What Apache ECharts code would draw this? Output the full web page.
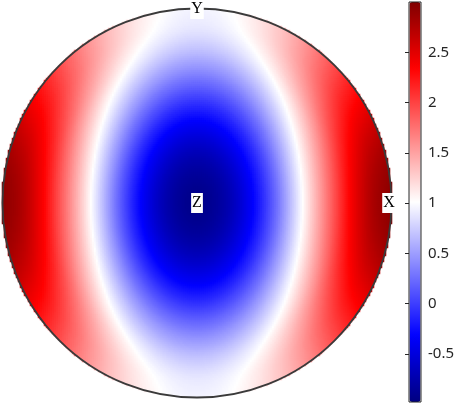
<!DOCTYPE html>
<html>
<head>
<meta charset="utf-8">
<script src="https://cdn.jsdelivr.net/npm/echarts@6/dist/echarts.min.js"></script>
<style>
  html, body { margin: 0; padding: 0; background: #fff; }
  #chart { width: 457px; height: 406px; }
</style>
</head>
<body>
<div id="chart"></div>
<script>
// ---- data ----
// radial sample positions (0 = centre "Z", 1 = rim) in the projection
const radii = [0, 0.1, 0.2, 0.3, 0.4, 0.5, 0.6, 0.7, 0.8, 0.9, 1.0];
// values read along the X direction (centre -> X on the rim)
const valuesAlongX = [-0.93, -0.85, -0.63, -0.27, 0.2, 0.76, 1.33, 1.88, 2.4, 2.76, 2.95];
// values read along the Y direction (centre -> Y on the rim)
const valuesAlongY = [-0.93, -0.89, -0.78, -0.61, -0.38, -0.11, 0.18, 0.46, 0.71, 0.88, 0.95];
// colour bar
const colorRange = [-0.98, 3.0];
const colorbarTicks = [-0.5, 0, 0.5, 1, 1.5, 2, 2.5];
// direction labels
const dirLabels = ['X', 'Y', 'Z'];
const dirPositions = [[0.985, 0], [0, 1.0], [0, 0]];

// ---- colour map (blue - white - red) ----
const cmapStops = [[0, [0, 0, 128]], [0.165, [0, 0, 255]], [0.5, [255, 255, 255]], [0.835, [255, 0, 0]], [1, [128, 0, 0]]];
function cmapAt(p) {
  for (let k = 0; k < cmapStops.length - 1; k++) {
    const a = cmapStops[k], b = cmapStops[k + 1];
    if (p <= b[0] || k === cmapStops.length - 2) {
      const t = Math.max(0, Math.min(1, (p - a[0]) / (b[0] - a[0])));
      const c = a[1].map((v, i) => Math.round(v + (b[1][i] - v) * t));
      return 'rgb(' + c.join(',') + ')';
    }
  }
}
const cmap = [];
for (let k = 0; k <= 60; k++) cmap.push(cmapAt(k / 60));

// ---- smooth profile lookup (render-time) ----
function profileAt(vals, r) {
  const n = vals.length - 1;
  const step = radii[1] - radii[0];
  r = Math.max(0, Math.min(radii[n], r));
  let k = Math.min(Math.floor(r / step), n - 1);
  const t = r / step - k;
  const p1 = vals[k], p2 = vals[k + 1];
  const p0 = k === 0 ? vals[1] : vals[k - 1];
  const p3 = k + 2 <= n ? vals[k + 2] : 2 * vals[n] - vals[n - 1];
  const t2 = t * t, t3 = t2 * t;
  return 0.5 * ((2 * p1) + (-p0 + p2) * t + (2 * p0 - 5 * p1 + 4 * p2 - p3) * t2 + (-p0 + 3 * p1 - 3 * p2 + p3) * t3);
}

const N = 195;
const cats = [];
for (let i = 0; i < N; i++) cats.push(i);
const half = 97.25;
const cells = [];
for (let i = 0; i < N; i++) {
  for (let j = 0; j < N; j++) {
    const xn = (i - 97) / half, yn = (j - 97) / half;
    const r2 = xn * xn + yn * yn;
    if (r2 > 1.006) continue;
    const r = Math.sqrt(r2);
    let c2 = 1, s2 = 0;
    if (r > 0) { c2 = xn * xn / r2; s2 = yn * yn / r2; }
    const v = profileAt(valuesAlongX, r) * c2 + profileAt(valuesAlongY, r) * s2;
    cells.push([i, j, v]);
  }
}

const labelData = dirLabels.map((name, k) => [dirPositions[k][0], dirPositions[k][1], name]);

const chart = echarts.init(document.getElementById('chart'), null, { renderer: 'canvas' });
chart.setOption({
  animation: false,
  backgroundColor: '#ffffff',
  grid: [
    { left: 2, top: 8, width: 390, height: 390, show: false },
    { left: 2.5, top: 8.5, width: 389, height: 389, show: false },
    { left: 409, top: 2, width: 12, height: 400, show: true, borderColor: '#262626', borderWidth: 1, backgroundColor: 'transparent', z: 10 }
  ],
  xAxis: [
    { type: 'category', data: cats, gridIndex: 0, show: false },
    { type: 'value', min: -1, max: 1, gridIndex: 1, show: false },
    { type: 'value', min: 0, max: 1, gridIndex: 2, show: false }
  ],
  yAxis: [
    { type: 'category', data: cats, gridIndex: 0, show: false },
    { type: 'value', min: -1, max: 1, gridIndex: 1, show: false },
    {
      type: 'value', gridIndex: 2, position: 'right', min: colorRange[0], max: colorRange[1], z: 11,
      axisLine: { show: false },
      splitLine: { show: false },
      axisTick: { show: true, inside: true, length: 4, customValues: colorbarTicks, lineStyle: { color: '#262626', width: 1 } },
      axisLabel: { show: true, margin: 7, customValues: colorbarTicks, color: '#262626', fontSize: 15, fontFamily: 'Noto Sans' }
    }
  ],
  polar: { center: [197, 203], radius: 194.5 },
  angleAxis: {
    type: 'value', min: 0, max: 360, z: 6,
    axisLine: { show: true, lineStyle: { color: '#3a3a3a', width: 1.8 } },
    axisTick: { show: false }, axisLabel: { show: false }, splitLine: { show: false }
  },
  radiusAxis: { type: 'value', min: 0, max: 1, show: false, axisLine: { show: false }, axisTick: { show: false }, axisLabel: { show: false }, splitLine: { show: false } },
  visualMap: {
    type: 'continuous', min: colorRange[0], max: colorRange[1], seriesIndex: 0, dimension: 2,
    inRange: { color: cmap },
    left: 409.5, top: 2, itemWidth: 11, itemHeight: 400, padding: 0,
    calculable: false, text: null, show: true, hoverLink: false, z: 1
  },
  series: [
    {
      type: 'heatmap', xAxisIndex: 0, yAxisIndex: 0, data: cells,
      progressive: 0, emphasis: { disabled: true }, silent: true, z: 2,
      itemStyle: { borderWidth: 0 }
    },
    {
      type: 'custom', xAxisIndex: 1, yAxisIndex: 1, data: labelData, clip: false, z: 20, silent: true,
      renderItem: function (params, api) {
        const p = api.coord([api.value(0), api.value(1)]);
        return {
          type: 'text', x: Math.round(p[0]), y: Math.round(p[1]),
          style: {
            text: String(labelData[params.dataIndex][2]),
            fill: '#000', fontSize: 16, fontFamily: 'Liberation Serif',
            align: 'center', verticalAlign: 'middle',
            backgroundColor: '#ffffff', padding: [2, 1, 1, 1], lineHeight: 17
          }
        };
      }
    }
  ]
});
</script>
</body>
</html>
